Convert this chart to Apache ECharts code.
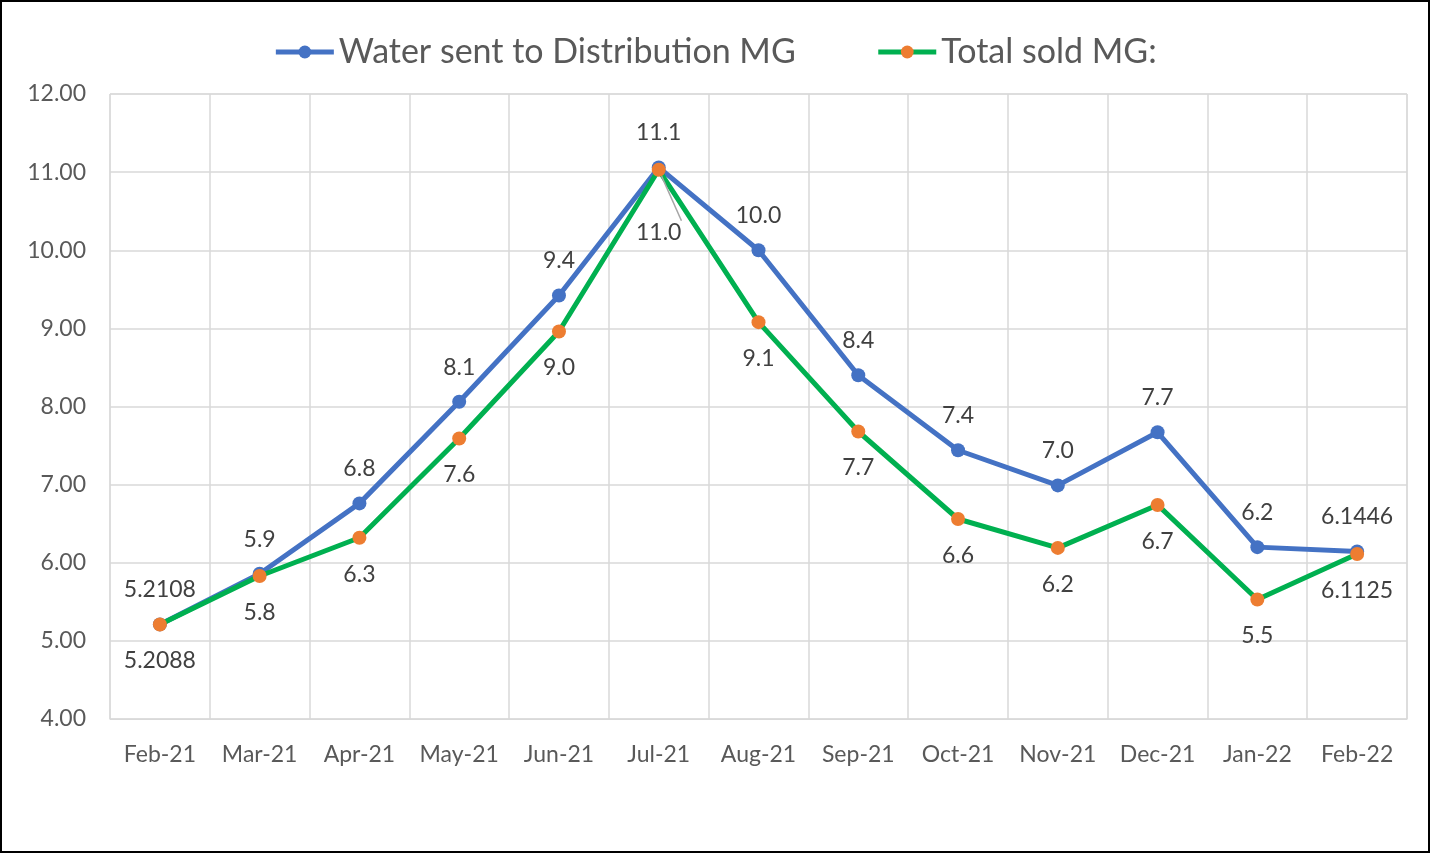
<!DOCTYPE html>
<html>
<head>
<meta charset="utf-8">
<script src="https://cdn.jsdelivr.net/npm/echarts@6/dist/echarts.min.js"></script>
<style>
  html, body { margin: 0; padding: 0; background: #fff; }
  #chart { width: 1430px; height: 853px; box-sizing: border-box; border: 2px solid #000; }
</style>
</head>
<body>
<div id="chart"></div>
<script>
const months = ['Feb-21', 'Mar-21', 'Apr-21', 'May-21', 'Jun-21', 'Jul-21', 'Aug-21',
  'Sep-21', 'Oct-21', 'Nov-21', 'Dec-21', 'Jan-22', 'Feb-22'];
const waterSent = [5.2108, 5.86, 6.76, 8.06, 9.42, 11.06, 10.0, 8.40, 7.44, 6.99, 7.67, 6.20, 6.1446];
const totalSold = [5.2088, 5.83, 6.32, 7.59, 8.96, 11.03, 9.08, 7.68, 6.56, 6.19, 6.74, 5.53, 6.1125];
const yTicks = { min: 4, max: 12, interval: 1 };

const FONT = 'Lato';
const TXT = '#404040';

const fmt = p => (p.dataIndex === 0 || p.dataIndex === months.length - 1)
  ? p.value.toFixed(4) : p.value.toFixed(1);

const chart = echarts.init(document.getElementById('chart'));
chart.setOption({
  animation: false,
  textStyle: { fontFamily: FONT },
  legend: {
    top: 28,
    left: 'center',
    itemWidth: 58,
    itemHeight: 16,
    itemGap: 80,
    lineStyle: { width: 5 },
    textStyle: { fontSize: 34, color: '#595959', fontFamily: FONT },
    data: ['Water sent to Distribution MG', 'Total sold MG:']
  },
  grid: { left: 108, right: 21, top: 92, bottom: 132, show: true, borderColor: '#d9d9d9', borderWidth: 1 },
  xAxis: {
    type: 'category',
    data: months,
    boundaryGap: true,
    axisLine: { lineStyle: { color: '#d9d9d9' } },
    axisTick: { show: false },
    splitLine: { show: true, interval: 0, lineStyle: { color: '#d9d9d9', width: 1.5 } },
    axisLabel: { interval: 0, color: '#595959', fontSize: 23, margin: 24, fontFamily: FONT }
  },
  yAxis: {
    type: 'value',
    min: yTicks.min,
    max: yTicks.max,
    interval: yTicks.interval,
    axisLine: { show: false },
    axisTick: { show: false },
    splitLine: { lineStyle: { color: '#d9d9d9', width: 1.5 } },
    axisLabel: { color: '#595959', fontSize: 23, margin: 24, fontFamily: FONT, formatter: v => v.toFixed(2) }
  },
  series: [
    {
      name: 'Water sent to Distribution MG',
      type: 'line',
      data: waterSent,
      symbol: 'circle',
      symbolSize: 14,
      lineStyle: { color: '#4472C4', width: 5 },
      itemStyle: { color: '#4472C4' },
      label: { show: true, position: 'top', distance: 16, fontSize: 23, color: TXT, formatter: fmt },
      z: 2
    },
    {
      name: 'Total sold MG:',
      type: 'line',
      data: totalSold.map((v, i) => i === 5
        ? { value: v, label: { distance: 44 }, labelLine: { show: true } }
        : v),
      symbol: 'circle',
      symbolSize: 14,
      lineStyle: { color: '#00B050', width: 5 },
      itemStyle: { color: '#ED7D31' },
      label: { show: true, position: 'bottom', distance: 18, fontSize: 23, color: TXT, formatter: fmt },
      labelLine: { lineStyle: { color: '#a6a6a6', width: 1.5 } },
      z: 3
    }
  ]
});
</script>
</body>
</html>
